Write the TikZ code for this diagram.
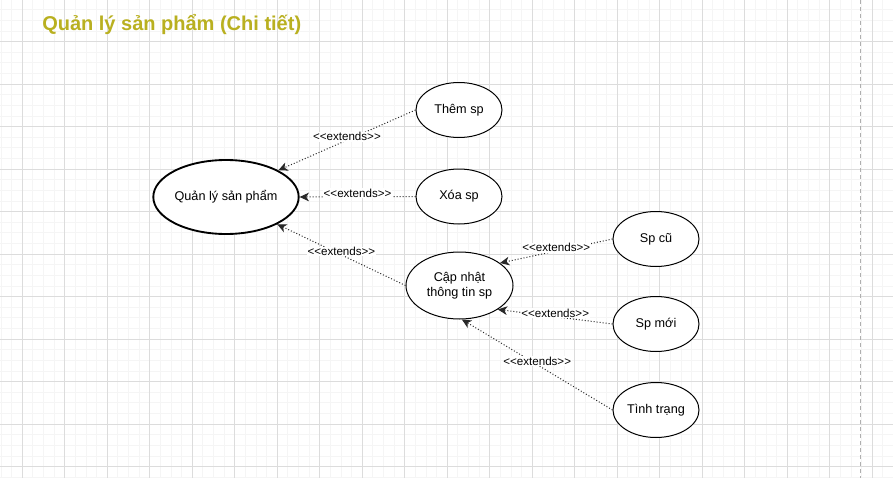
\documentclass[tikz,border=0pt]{standalone}
\usepackage{fontspec}
\setmainfont{Liberation Sans}
\usetikzlibrary{shapes.geometric,arrows.meta}
\definecolor{titlecol}{RGB}{185,176,32}
\definecolor{minorgrid}{RGB}{245,245,245}
\definecolor{majorgrid}{RGB}{220,220,220}
\definecolor{pagesep}{RGB}{175,175,175}
\definecolor{edgecol}{RGB}{40,40,40}
\newcommand\extlabel{<{}<extends>{}>}
\begin{document}
\begin{tikzpicture}[x=0.75pt,y=-0.75pt,
  uc/.style={ellipse,draw=black,line width=0.75pt,fill=white,inner sep=0pt,
    minimum width=64.5pt,minimum height=41.25pt,
    font=\fontsize{9.5pt}{11.5pt}\selectfont,align=center},
  ext/.style={draw=edgecol,line width=0.75pt,dash pattern=on 0.75pt off 1.5pt,
    -{Stealth[length=7pt,width=6.5pt,inset=2pt]}},
  lbl/.style={fill=white,inner sep=0.5pt,font=\fontsize{8.7pt}{10pt}\selectfont,yshift=2.5pt}]
\useasboundingbox (0,0) rectangle (893,478);
\fill[white] (0,0) rectangle (893,478);
\begin{scope}
\clip (0,0) rectangle (893,478);
\foreach \i in {0,...,83} \draw[minorgrid,line width=0.75pt] ({1.05+10.625*\i},0) -- ++(0,478);
\foreach \i in {0,...,44} \draw[minorgrid,line width=0.75pt] (0,{9.8+10.625*\i}) -- ++(893,0);
\foreach \i in {0,...,20} \draw[majorgrid,line width=0.75pt] ({22.3+42.5*\i},0) -- ++(0,478);
\foreach \i in {0,...,10} \draw[majorgrid,line width=0.75pt] (0,{41.7+42.5*\i}) -- ++(893,0);
\draw[pagesep,line width=0.9pt,dash pattern=on 3pt off 2.25pt] (860.7,0) -- (860.7,478);
\end{scope}

\node[anchor=base west,text=titlecol,font=\fontsize{15pt}{18pt}\selectfont\bfseries,inner sep=0pt] (title) at (42,31) {Quản lý sản phẩm (Chi tiết)};

\node[uc,line width=1.4pt,minimum width=104.25pt,minimum height=55.5pt] (qly) at (226,197) {Quản lý sản phẩm};
\node[uc] (them) at (459,110) {Thêm sp};
\node[uc] (xoa) at (459,196.5) {Xóa sp};
\node[uc,minimum width=80.25pt,minimum height=50.25pt] (cn) at (459.5,285.5) {Cập nhật\\thông tin sp};
\node[uc] (spcu) at (656,239) {Sp cũ};
\node[uc] (spmoi) at (656,324) {Sp mới};
\node[uc] (tt) at (656,410) {Tình trạng};

\draw[ext] (them.west) -- node[lbl] {\extlabel} (qly.27);
\draw[ext] (xoa.west) -- node[lbl] {\extlabel} (qly.east);
\draw[ext] (cn.west) -- node[lbl] {\extlabel} (qly.-28);
\draw[ext] (spcu.west) -- node[lbl] {\extlabel} (cn.29);
\draw[ext] (spmoi.west) -- node[lbl] {\extlabel} (cn.-32);
\draw[ext] (tt.west) -- node[lbl] {\extlabel} (cn.-86);
\end{tikzpicture}
\end{document}
